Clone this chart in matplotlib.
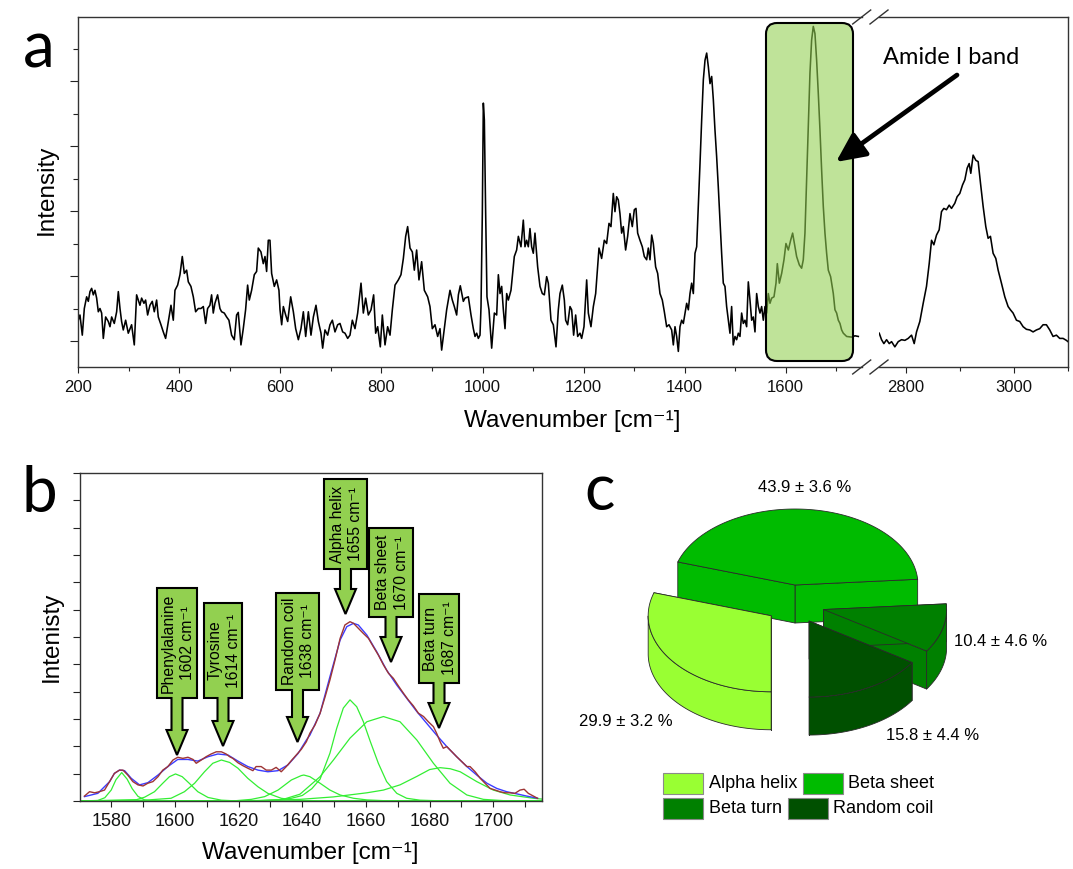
import numpy as np
import matplotlib
matplotlib.use("Agg")
import matplotlib.pyplot as plt
from matplotlib.patches import Polygon, Rectangle, FancyBboxPatch
from matplotlib.ticker import MultipleLocator, NullFormatter

plt.rcParams['font.family'] = ['Liberation Sans', 'DejaVu Sans']

# ---------------- Panel a: Raman spectrum (wavenumber, intensity a.u.) ----------------
spectrum_low = [
    (200.0, 0.32), (203.3, 0.40), (207.9, 0.09), (211.9, 0.50), (216.5, 0.68), (219.8, 0.61),
    (223.1, 0.76), (226.4, 0.81), (229.7, 0.71), (233.0, 0.78), (236.3, 0.66), (239.6, 0.45),
    (242.9, 0.50), (246.2, 0.43), (249.5, 0.04), (254.1, 0.37), (259.4, 0.30), (262.7, 0.22),
    (266.0, 0.37), (271.2, 0.27), (275.9, 0.45), (279.2, 0.76), (282.5, 0.50), (285.7, 0.30),
    (289.0, 0.17), (293.7, 0.32), (298.9, 0.12), (305.5, 0.25), (310.8, -0.06), (315.4, 0.71),
    (318.7, 0.63), (322.0, 0.55), (325.3, 0.66), (329.9, 0.58), (333.2, 0.63), (337.2, 0.40),
    (341.8, 0.55), (346.4, 0.61), (350.4, 0.45), (355.0, 0.63), (358.3, 0.37), (363.6, 0.25),
    (368.2, 0.14), (372.8, 0.04), (378.1, 0.30), (383.4, 0.55), (388.0, 0.32), (391.3, 0.78),
    (396.6, 0.86), (401.2, 1.02), (405.8, 1.30), (409.8, 1.04), (414.4, 1.09), (417.7, 0.91),
    (422.9, 0.84), (427.6, 0.68), (432.2, 0.45), (437.5, 0.50), (442.7, 0.50), (447.4, 0.53),
    (452.0, 0.27), (455.9, 0.50), (460.5, 0.55), (463.8, 0.71), (467.1, 0.43), (470.4, 0.58),
    (475.7, 0.71), (480.3, 0.50), (483.6, 0.45), (488.9, 0.43), (493.5, 0.37), (498.1, 0.32),
    (503.4, 0.09), (508.7, 0.02), (513.3, 0.40), (516.6, 0.44), (521.9, -0.06), (526.5, 0.19),
    (531.1, 0.48), (535.1, 0.86), (538.4, 0.63), (543.0, 0.78), (548.3, 1.02), (552.9, 1.07),
    (556.2, 1.43), (561.5, 1.37), (566.1, 1.19), (569.5, 1.30), (572.7, 1.07), (576.0, 1.55),
    (579.3, 1.55), (582.6, 1.04), (587.9, 0.84), (592.5, 0.94), (597.1, 0.78), (599.2, 0.48),
    (602.5, 0.25), (605.8, 0.53), (610.4, 0.40), (614.4, 0.30), (620.3, 0.68), (625.6, 0.45),
    (630.2, 0.19), (635.5, 0.02), (640.7, 0.19), (645.4, 0.45), (650.0, 0.07), (655.3, 0.45),
    (660.5, 0.09), (665.2, 0.37), (670.4, 0.55), (675.1, 0.30), (680.3, 0.12), (683.6, -0.11),
    (688.2, 0.17), (693.5, 0.09), (698.1, 0.25), (702.8, 0.32), (708.0, 0.14), (713.3, 0.25),
    (717.9, 0.27), (723.2, 0.14), (727.8, 0.12), (733.1, 0.04), (737.7, 0.09), (742.3, 0.32),
    (747.6, 0.19), (752.9, 0.43), (759.5, 0.89), (764.1, 0.43), (768.7, 0.66), (774.0, 0.40),
    (779.3, 0.48), (784.5, 0.71), (788.5, 0.12), (792.5, 0.22), (797.7, -0.09), (801.7, 0.40),
    (807.0, -0.06), (812.2, 0.22), (816.9, 0.09), (821.5, 0.48), (826.8, 0.86), (833.4, 0.94),
    (838.6, 1.02), (843.3, 1.27), (847.9, 1.61), (851.8, 1.76), (856.5, 1.43), (861.1, 1.37),
    (865.0, 1.09), (869.6, 1.40), (874.2, 0.94), (879.5, 1.22), (884.8, 0.78), (891.4, 0.68),
    (896.0, 0.53), (900.6, 0.19), (905.9, 0.25), (911.2, 0.07), (915.8, 0.19), (919.1, -0.14),
    (924.4, 0.19), (929.0, 0.48), (935.6, 0.78), (940.2, 0.63), (944.2, 0.53), (948.8, 0.40),
    (952.2, 0.71), (956.0, 0.85), (962.0, 0.61), (965.3, 0.66), (971.9, 0.68), (977.2, 0.40),
    (981.8, 0.19), (985.1, 0.07), (988.4, 0.12), (991.7, 0.04), (995.0, 0.09), (997.0, 0.53),
    (999.6, 1.96), (1001.6, 3.66), (1003.6, 3.40), (1006.2, 1.96), (1008.8, 0.68), (1012.8, 0.48),
    (1018.1, -0.11), (1023.4, 0.43), (1028.0, 0.40), (1031.3, 1.02), (1034.6, 0.73), (1037.9, 0.84),
    (1041.2, 0.48), (1044.5, 0.19), (1047.8, 0.73), (1051.1, 0.63), (1056.3, 0.78), (1062.9, 1.30),
    (1067.5, 1.40), (1070.9, 1.61), (1076.1, 1.45), (1080.7, 1.86), (1084.0, 1.45), (1087.3, 1.55),
    (1090.6, 1.45), (1093.9, 1.73), (1097.2, 1.45), (1100.5, 1.35), (1103.8, 1.66), (1109.1, 1.14),
    (1113.7, 0.84), (1118.3, 0.73), (1122.3, 0.71), (1126.9, 0.99), (1130.2, 0.89), (1135.5, 0.32),
    (1140.1, 0.25), (1145.4, -0.09), (1150.0, 0.48), (1153.3, 0.73), (1157.9, 0.86), (1161.9, 0.63),
    (1164.5, 0.32), (1168.5, 0.25), (1173.1, 0.53), (1176.4, 0.48), (1180.3, 0.09), (1184.3, 0.40),
    (1188.3, 0.07), (1192.9, 0.12), (1196.2, 0.04), (1200.8, 0.22), (1206.1, 0.94), (1209.4, 0.43),
    (1214.6, 0.22), (1219.3, 0.53), (1223.9, 0.73), (1230.5, 1.43), (1235.7, 1.27), (1241.0, 1.55),
    (1245.6, 1.50), (1250.3, 1.81), (1254.2, 1.76), (1258.8, 2.27), (1262.1, 1.99), (1265.4, 2.22),
    (1268.7, 2.17), (1272.0, 1.96), (1275.3, 1.66), (1278.6, 1.76), (1283.2, 1.40), (1287.2, 1.61),
    (1291.8, 1.96), (1296.4, 1.76), (1300.4, 2.02), (1303.7, 2.04), (1307.0, 1.66), (1311.6, 1.55),
    (1316.2, 1.45), (1320.2, 1.30), (1324.8, 1.25), (1328.1, 1.43), (1331.4, 1.25), (1334.8, 1.63),
    (1338.0, 1.50), (1342.6, 1.14), (1346.6, 1.04), (1351.2, 0.73), (1355.8, 0.63), (1359.8, 0.45),
    (1364.4, 0.22), (1369.0, 0.25), (1374.3, 0.17), (1377.6, -0.06), (1380.9, 0.22), (1384.2, 0.07),
    (1387.5, -0.16), (1390.8, 0.22), (1394.1, 0.32), (1397.4, 0.27), (1400.7, 0.43), (1404.0, 0.58),
    (1407.3, 0.48), (1410.6, 0.73), (1413.9, 0.89), (1417.2, 0.73), (1420.5, 1.35), (1423.8, 1.45),
    (1427.1, 2.07), (1430.4, 2.73), (1433.7, 3.40), (1437.0, 4.02), (1440.3, 4.32), (1443.6, 4.43),
    (1446.9, 4.22), (1450.2, 3.96), (1453.5, 4.07), (1456.8, 3.71), (1460.0, 3.25), (1463.3, 2.84),
    (1466.6, 2.37), (1469.9, 1.86), (1473.2, 1.35), (1476.5, 0.89), (1479.8, 0.84), (1483.1, 0.53),
    (1486.4, 0.32), (1489.7, 0.12), (1493.0, 0.53), (1496.3, -0.06), (1499.6, 0.07), (1502.9, 0.02),
    (1506.2, 0.12), (1509.5, 0.07), (1512.8, 0.43), (1516.1, 0.27), (1519.4, 0.32), (1522.7, 0.22),
    (1526.0, 0.91), (1529.3, 0.63), (1532.6, 0.32), (1535.9, 0.37), (1539.2, 0.14), (1542.5, 0.73),
    (1545.8, 0.53), (1549.1, 0.43), (1552.4, 0.53), (1555.7, 0.32), (1559.0, 0.53), (1562.3, 0.43),
    (1565.6, 0.73), (1568.9, 0.58), (1572.2, 0.66), (1576.8, 0.68), (1580.8, 0.89), (1583.4, 1.19),
    (1587.4, 0.89), (1592.0, 1.04), (1596.6, 1.25), (1600.5, 1.50), (1605.2, 1.40), (1609.8, 1.55),
    (1613.7, 1.66), (1618.4, 1.45), (1621.6, 1.30), (1627.0, 1.17), (1631.5, 1.12), (1634.8, 1.25),
    (1638.1, 1.66), (1641.4, 2.48), (1644.7, 3.30), (1648.0, 4.12), (1651.3, 4.63), (1654.6, 4.84),
    (1657.9, 4.73), (1661.2, 4.32), (1664.5, 3.81), (1667.8, 3.25), (1671.1, 2.63), (1674.4, 2.07),
    (1677.7, 1.66), (1681.0, 1.35), (1684.3, 1.09), (1688.9, 0.99), (1694.2, 0.73), (1697.5, 0.48),
    (1700.8, 0.43), (1704.1, 0.32), (1707.4, 0.27), (1710.7, 0.17), (1714.0, 0.12), (1720.6, 0.07),
    (1730.5, 0.06), (1737.1, 0.08), (1743.7, 0.07),
]
spectrum_high = [
    (2751.4, 0.12), (2755.7, 0.02), (2760.0, -0.04), (2765.0, 0.02), (2769.9, -0.04), (2774.2, -0.01),
    (2780.3, -0.09), (2786.5, -0.01), (2792.6, 0.02), (2798.8, 0.01), (2804.9, 0.04), (2811.1, 0.09),
    (2816.0, -0.04), (2820.3, 0.14), (2826.4, 0.30), (2832.6, 0.58), (2838.7, 0.84), (2843.7, 1.19),
    (2848.0, 1.55), (2852.3, 1.48), (2857.2, 1.63), (2862.1, 1.71), (2866.4, 1.99), (2870.7, 2.04),
    (2875.6, 2.02), (2880.6, 2.09), (2884.9, 2.04), (2891.0, 2.12), (2895.3, 2.22), (2900.2, 2.27),
    (2905.2, 2.40), (2909.5, 2.48), (2913.8, 2.66), (2917.5, 2.73), (2920.5, 2.58), (2924.8, 2.86),
    (2929.8, 2.78), (2934.1, 2.76), (2938.4, 2.43), (2943.3, 2.07), (2948.2, 1.76), (2952.5, 1.58),
    (2956.8, 1.61), (2961.7, 1.35), (2966.7, 1.27), (2971.0, 1.09), (2977.1, 0.89), (2983.3, 0.68),
    (2989.4, 0.53), (2993.7, 0.48), (2998.6, 0.43), (3004.8, 0.32), (3010.9, 0.30), (3017.1, 0.22),
    (3023.2, 0.18), (3029.4, 0.17), (3035.5, 0.14), (3041.7, 0.17), (3047.8, 0.19), (3054.0, 0.25),
    (3060.1, 0.25), (3066.3, 0.17), (3072.4, 0.07), (3078.6, 0.09), (3084.7, 0.04), (3090.9, 0.04),
    (3097.0, 0.01), (3100.0, -0.01),
]

# ---------------- Panel b: Amide I band fit ----------------
amide_data = [
    (1571.6, 0.18), (1573.2, 0.34), (1574.8, 0.30), (1576.3, 0.34), (1577.9, 0.40), (1579.5, 0.71),
    (1581.0, 1.01), (1582.6, 1.13), (1583.7, 1.13), (1585.2, 0.95), (1586.8, 0.71), (1588.4, 0.59),
    (1590.0, 0.55), (1591.5, 0.65), (1593.1, 0.71), (1594.7, 0.89), (1596.2, 1.13), (1597.8, 1.26),
    (1599.4, 1.50), (1600.9, 1.60), (1602.5, 1.56), (1604.1, 1.60), (1605.7, 1.52), (1606.7, 1.38),
    (1608.3, 1.50), (1609.8, 1.62), (1611.4, 1.72), (1613.0, 1.80), (1614.6, 1.80), (1616.1, 1.72),
    (1617.2, 1.62), (1618.2, 1.56), (1619.8, 1.40), (1621.4, 1.29), (1622.9, 1.20), (1624.5, 1.11),
    (1625.5, 1.26), (1627.1, 1.26), (1628.7, 1.13), (1630.3, 1.13), (1631.8, 1.23), (1633.4, 1.07),
    (1635.0, 1.26), (1636.6, 1.48), (1638.1, 1.68), (1639.7, 1.89), (1641.3, 2.17), (1642.4, 2.48),
    (1644.0, 2.78), (1645.6, 3.21), (1647.2, 3.82), (1648.7, 4.43), (1650.3, 5.16), (1651.9, 5.95),
    (1653.4, 6.44), (1655.0, 6.56), (1656.1, 6.50), (1657.6, 6.32), (1659.2, 6.13), (1660.8, 5.95),
    (1662.3, 5.65), (1663.9, 5.34), (1665.5, 4.98), (1667.1, 4.67), (1668.6, 4.49), (1670.2, 4.21),
    (1671.8, 3.94), (1673.3, 3.70), (1674.9, 3.48), (1676.5, 3.21), (1678.1, 3.09), (1679.6, 2.90),
    (1681.2, 2.72), (1682.2, 2.48), (1683.3, 2.17), (1684.3, 1.93), (1685.4, 1.99), (1687.0, 1.80),
    (1688.5, 1.62), (1690.1, 1.44), (1691.7, 1.26), (1692.7, 1.26), (1694.3, 1.07), (1695.9, 0.83),
    (1697.4, 0.65), (1699.0, 0.46), (1700.6, 0.40), (1702.1, 0.34), (1703.7, 0.30), (1705.3, 0.30),
    (1706.8, 0.28), (1708.4, 0.40), (1709.7, 0.43), (1711.0, 0.28), (1712.6, 0.18), (1713.9, 0.10),
]
amide_fit = [
    (1571.6, 0.16), (1575.8, 0.28), (1579.5, 0.71), (1581.0, 1.01), (1582.6, 1.13), (1584.2, 1.11),
    (1586.3, 0.83), (1588.9, 0.59), (1591.5, 0.67), (1594.7, 0.95), (1597.8, 1.26), (1600.9, 1.52),
    (1604.1, 1.52), (1607.2, 1.46), (1610.4, 1.62), (1613.5, 1.72), (1616.7, 1.68), (1619.8, 1.46),
    (1622.9, 1.26), (1626.1, 1.13), (1629.2, 1.07), (1632.4, 1.11), (1635.5, 1.32), (1638.7, 1.74),
    (1641.3, 2.23), (1642.4, 2.41), (1645.6, 3.21), (1648.7, 4.55), (1651.9, 5.89), (1654.0, 6.38),
    (1656.1, 6.50), (1657.6, 6.44), (1660.3, 6.07), (1663.4, 5.46), (1666.5, 4.79), (1669.7, 4.24),
    (1672.8, 3.76), (1676.0, 3.27), (1679.1, 2.84), (1682.2, 2.41), (1685.4, 1.99), (1688.5, 1.62),
    (1691.7, 1.26), (1694.8, 0.95), (1698.0, 0.65), (1701.1, 0.46), (1704.2, 0.34), (1707.4, 0.26),
    (1710.5, 0.18), (1713.9, 0.10),
]
band_1583 = [(1570.2, 0.0), (1575.8, 0.02), (1578.0, 0.12), (1580.0, 0.40), (1581.5, 0.78),
             (1583.3, 1.04), (1585.0, 0.80), (1586.6, 0.45), (1588.4, 0.17), (1590.5, 0.04),
             (1593.0, 0.0), (1715.3, 0.0)]
band_1600 = [(1570.2, 0.0), (1588.0, 0.05), (1590.5, 0.14), (1593.6, 0.34), (1596.2, 0.65),
             (1598.3, 0.89), (1600.2, 0.99), (1602.3, 0.89), (1604.5, 0.65), (1607.2, 0.34),
             (1610.4, 0.13), (1614.6, 0.03), (1620.0, 0.0), (1715.3, 0.0)]
band_1615 = [(1570.2, 0.0), (1590.5, 0.03), (1598.8, 0.10), (1603.0, 0.34), (1606.2, 0.65),
             (1609.3, 1.07), (1611.9, 1.38), (1614.6, 1.50), (1617.2, 1.41), (1619.8, 1.20),
             (1622.9, 0.83), (1626.1, 0.52), (1629.2, 0.28), (1633.4, 0.10), (1637.6, 0.03),
             (1645.0, 0.0), (1715.3, 0.0)]
band_1640 = [(1570.2, 0.0), (1618.0, 0.0), (1624.0, 0.06), (1628.2, 0.16), (1632.4, 0.40),
             (1636.6, 0.77), (1639.7, 0.93), (1640.5, 0.95), (1642.4, 0.89), (1645.6, 0.65),
             (1648.7, 0.40), (1651.9, 0.22), (1656.1, 0.10), (1660.3, 0.04), (1668.0, 0.0),
             (1715.3, 0.0)]
band_1655 = [(1570.2, 0.0), (1625.0, 0.0), (1632.0, 0.03), (1636.6, 0.10), (1640.0, 0.20),
             (1643.0, 0.45), (1645.6, 0.80), (1648.7, 1.75), (1650.8, 2.65), (1652.9, 3.40),
             (1655.0, 3.70), (1657.1, 3.45), (1659.2, 2.90), (1661.3, 2.20), (1663.9, 1.38),
             (1666.5, 0.71), (1669.7, 0.28), (1672.8, 0.10), (1677.0, 0.03), (1685.0, 0.0),
             (1715.3, 0.0)]
band_1665 = [(1570.2, 0.0), (1625.0, 0.0), (1634.0, 0.06), (1639.3, 0.25), (1645.6, 0.89),
             (1649.8, 1.50), (1655.0, 2.30), (1660.3, 2.90), (1665.5, 3.09), (1670.7, 2.90),
             (1676.0, 2.23), (1681.2, 1.38), (1686.4, 0.65), (1691.7, 0.22), (1696.9, 0.06),
             (1705.0, 0.0), (1715.3, 0.0)]
band_1683 = [(1570.2, 0.0), (1620.0, 0.0), (1639.3, 0.06), (1649.8, 0.15), (1660.3, 0.30),
             (1665.5, 0.40), (1670.7, 0.59), (1676.0, 0.90), (1680.0, 1.15), (1683.3, 1.22),
             (1686.5, 1.18), (1689.6, 1.07), (1694.8, 0.71), (1700.0, 0.40), (1705.3, 0.22),
             (1712.6, 0.10), (1715.3, 0.07)]
fit_bands = [band_1583, band_1600, band_1615, band_1640, band_1655, band_1665, band_1683]

callout_labels = ["Phenylalanine\n1602 cm⁻¹", "Tyrosine\n1614 cm⁻¹",
                  "Random coil\n1638 cm⁻¹", "Alpha helix\n1655 cm⁻¹",
                  "Beta sheet\n1670 cm⁻¹", "Beta turn\n1687 cm⁻¹"]

# ---------------- Panel c: secondary structure ----------------
structures = ["Alpha helix", "Beta sheet", "Beta turn", "Random coil"]
percent = [29.9, 43.9, 10.4, 15.8]
percent_err = [3.2, 3.6, 4.6, 4.4]
pie_colors = ["#99FF33", "#00BB00", "#008000", "#005000"]
explode = [0.24, 0.0, 0.24, 0.24]

# ======================================================================
W, H = 1073, 869
fig = plt.figure(figsize=(W / 100, H / 100), dpi=100)


def frac(x0, y0, x1, y1):
    return [x0 / W, 1 - y1 / H, (x1 - x0) / W, (y1 - y0) / H]


LBL = 17.5
lw_sp = 1.0
XLAB = 'Wavenumber [cm⁻¹]'

# ---- panel a
axL = fig.add_axes(frac(78.3, 17, 862, 367))
axR = fig.add_axes(frac(879, 17, 1068, 367))
xl, yl = np.array(spectrum_low).T
xh, yh = np.array(spectrum_high).T
axL.plot(xl, yl, color='black', lw=1.15)
axR.plot(xh, yh, color='black', lw=1.15)
for ax in (axL, axR):
    ax.set_ylim(-0.4, 4.985)
    ax.xaxis.set_major_locator(MultipleLocator(200))
    ax.xaxis.set_minor_locator(MultipleLocator(100))
    ax.tick_params(axis='x', which='major', direction='out', length=4, width=0.8,
                   labelsize=12, colors='#222222', labelcolor='#111111', pad=5)
    ax.tick_params(axis='x', which='minor', direction='out', length=3, width=0.8, colors='#222222')
    for s in ax.spines.values():
        s.set_linewidth(lw_sp)
        s.set_color('#333333')
axL.set_xlim(200, 1751)
axR.set_xlim(2751, 3100)
axL.spines['right'].set_visible(False)
axR.spines['left'].set_visible(False)
axR.set_yticks([])
axL.yaxis.set_major_locator(MultipleLocator(1))
axL.yaxis.set_minor_locator(MultipleLocator(0.5))
axL.yaxis.set_major_formatter(NullFormatter())
axL.tick_params(axis='y', which='major', direction='out', length=6, width=0.8, colors='#222222')
axL.tick_params(axis='y', which='minor', direction='out', length=3.5, width=0.8, colors='#222222')
axL.set_ylabel('Intensity', fontsize=LBL)
axL.yaxis.set_label_coords(-0.040, 0.506)
axL.yaxis.label.set_va('center')
axL.set_xlabel(XLAB, fontsize=LBL)
axL.xaxis.set_label_coords(0.63, -0.154)
axL.xaxis.label.set_va('center')

# ---- panel b
axB = fig.add_axes(frac(80, 473, 542, 801))
for band in fit_bands:
    bx, by = np.array(band).T
    axB.plot(bx, by, color='#33EE33', lw=0.9)
fx, fy = np.array(amide_fit).T
axB.plot(fx, fy, color='#3B3BFF', lw=1.0)
dx, dy = np.array(amide_data).T
axB.plot(dx, dy, color='#9E3535', lw=1.0)
axB.set_xlim(1570.2, 1715.3)
axB.set_ylim(0, 12.0)
axB.xaxis.set_major_locator(MultipleLocator(20))
axB.xaxis.set_minor_locator(MultipleLocator(10))
axB.yaxis.set_major_locator(MultipleLocator(1))
axB.yaxis.set_major_formatter(NullFormatter())
axB.tick_params(axis='x', which='major', direction='out', length=4, width=0.8,
                labelsize=13, colors='#222222', labelcolor='#111111', pad=5)
axB.tick_params(axis='x', which='minor', direction='out', length=4, width=0.8, colors='#222222')
axB.tick_params(axis='y', which='major', direction='out', length=5, width=0.8, colors='#222222')
for s in axB.spines.values():
    s.set_linewidth(lw_sp)
    s.set_color('#333333')
axB.set_ylabel('Intenisty', fontsize=LBL)
axB.yaxis.set_label_coords(-0.0606, 0.5)
axB.yaxis.label.set_va('center')
axB.set_xlabel(XLAB, fontsize=LBL)
axB.xaxis.set_label_coords(0.498, -0.158)
axB.xaxis.label.set_va('center')

# ---- overlay in pixel coordinates
ov = fig.add_axes([0, 0, 1, 1])
ov.set_xlim(0, W)
ov.set_ylim(H, 0)
ov.axis('off')
ov.set_zorder(10)

# axis break marks
for xc in (861.7, 879.0):
    for yc in (17, 367):
        ov.plot([xc - 9, xc + 9], [yc + 7, yc - 7], color='#333333', lw=1.0)

# Amide I highlight box and arrow
ov.add_patch(FancyBboxPatch((766, 23), 87, 338, boxstyle='round,pad=0,rounding_size=11',
                            fc=(146 / 255, 208 / 255, 80 / 255, 0.58), ec='black', lw=1.5))
ov.annotate('', xy=(836, 162), xytext=(957, 75),
            arrowprops=dict(arrowstyle='-|>,head_length=0.8,head_width=0.38', lw=3.4,
                            color='black', mutation_scale=22, shrinkA=0, shrinkB=0))
ov.text(883, 58, 'Amide I band', fontsize=17, family=['Lato', 'DejaVu Sans'],
        ha='left', va='center')

# callouts (box + down arrow) for panel b
callout_boxes = [(157, 588, 197, 698, 755), (204, 603, 242, 698, 746),
                 (276, 593, 319, 690, 742), (324, 479, 367, 569, 614),
                 (369, 528, 413, 617, 662), (419, 594, 459, 683, 728)]
for (x0, y0, x1, y1, tip), lab in zip(callout_boxes, callout_labels):
    xc = (x0 + x1) / 2
    sw, hw, hl = 5.5, 10.5, 25
    pts = [(x0, y0), (x1, y0), (x1, y1), (xc + sw, y1), (xc + sw, tip - hl),
           (xc + hw, tip - hl), (xc, tip), (xc - hw, tip - hl), (xc - sw, tip - hl),
           (xc - sw, y1), (x0, y1)]
    ov.add_patch(Polygon(pts, closed=True, fc='#92D050', ec='black', lw=1.5, joinstyle='miter'))
    ov.text(xc + 1, (y0 + y1) / 2, lab, rotation=90, ha='center', va='center',
            multialignment='center', fontsize=11.3, linespacing=1.3)

# 3D pie chart
cx, cy, ra, rb, th = 795.0, 585.0, 123.0, 76.0, 38.0
drop = 20.0
total = sum(percent)
slices = []
t_cur = 270.0
for val, col, ex in zip(percent, pie_colors, explode):
    span = 360.0 * val / total
    t1, t0 = t_cur, t_cur - span
    tm = np.radians((t0 + t1) / 2)
    ox = ex * ra * np.cos(tm)
    oy = -ex * rb * np.sin(tm) + (drop if ex > 0 else 0.0)
    slices.append((t0, t1, cx + ox, cy + oy, col))
    t_cur = t0

edge_kw = dict(ec='#2A2A2A', lw=0.6, joinstyle='round')


def rim(px, py, t):
    tr = np.radians(t)
    return px + ra * np.cos(tr), py - rb * np.sin(tr)


for idx in (1, 2, 0, 3):
    t0, t1, px, py, col = slices[idx]
    for te in (t0, t1):
        rx, ry = rim(px, py, te)
        ov.add_patch(Polygon([(px, py), (rx, ry), (rx, ry + th), (px, py + th)],
                             closed=True, fc=col, **edge_kw))
    ts = np.linspace(t0, t1, 600)
    front = np.sin(np.radians(ts)) < 0
    if front.any():
        tf = ts[front]
        rx, ry = rim(px, py, tf)
        pts = list(zip(rx, ry)) + list(zip(rx[::-1], ry[::-1] + th))
        ov.add_patch(Polygon(pts, closed=True, fc=col, **edge_kw))
    rx, ry = rim(px, py, ts)
    pts = [(px, py)] + list(zip(rx, ry))
    ov.add_patch(Polygon(pts, closed=True, fc=col, **edge_kw))

PF = 12
ov.text(805, 488, f"{percent[1]} ± {percent_err[1]} %", fontsize=PF, ha='center', va='center')
ov.text(954, 641, f"{percent[2]} ± {percent_err[2]} %", fontsize=PF, ha='left', va='center')
ov.text(886, 736, f"{percent[3]} ± {percent_err[3]} %", fontsize=PF, ha='left', va='center')
ov.text(673, 722, f"{percent[0]} ± {percent_err[0]} %", fontsize=PF, ha='right', va='center')

# legend (two rows)
legend_slots = [(663, 773, 709), (803, 773, 848), (663, 798, 709), (788, 798, 833)]
for (lx, ly, tx), name, col in zip(legend_slots, structures, pie_colors):
    ov.add_patch(Rectangle((lx, ly), 40, 21, fc=col, ec='#8A8A8A', lw=0.8))
    ov.text(tx, ly + 10.5, name, fontsize=13, ha='left', va='center')

# panel letters
for letter, x, y in (('a', 39, 68), ('b', 39, 512), ('c', 600, 510)):
    ov.text(x, y, letter, fontsize=46, family=['Lato', 'DejaVu Sans'],
            ha='center', va='baseline')

fig.savefig('out.png', dpi=100)
